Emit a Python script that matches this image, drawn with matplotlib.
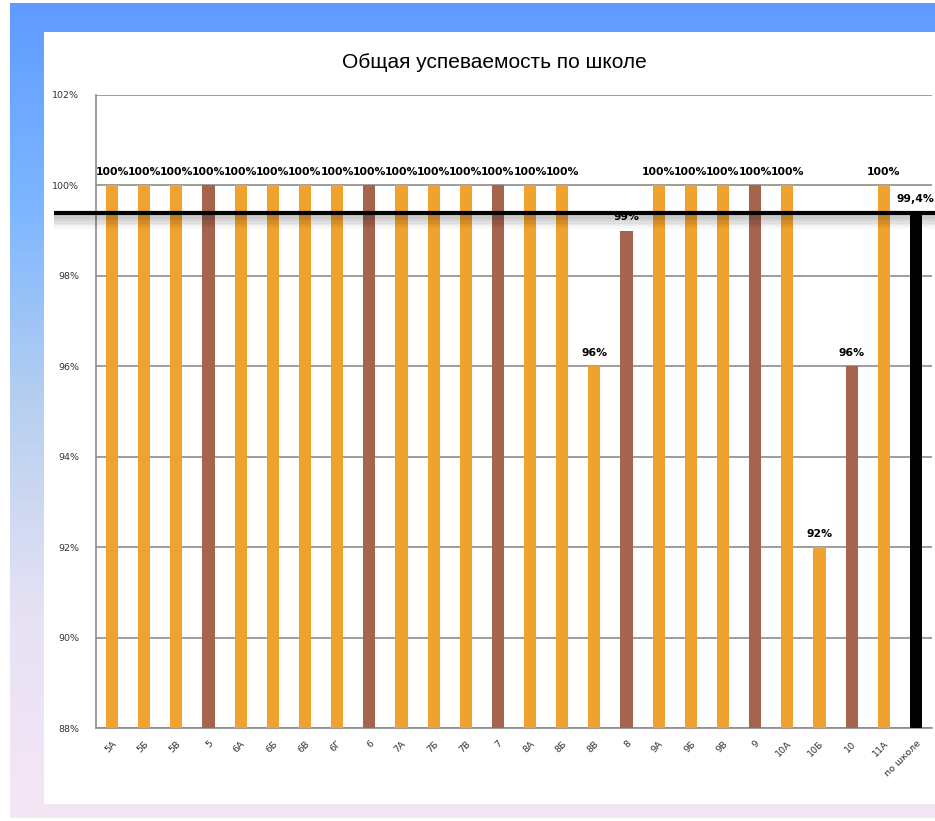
import numpy as np
import matplotlib
matplotlib.use('Agg')
import matplotlib.pyplot as plt
from matplotlib.patches import Rectangle
from matplotlib.colors import LinearSegmentedColormap
import matplotlib.transforms as mtransforms

# School pass rate by class
classes = ['5А', '5Б', '5В', '5', '6А', '6Б', '6В', '6Г', '6', '7А', '7Б', '7В', '7',
           '8А', '8Б', '8В', '8', '9А', '9Б', '9В', '9', '10А', '10Б', '10', '11А',
           'по школе']
values = [100, 100, 100, 100, 100, 100, 100, 100, 100, 100, 100, 100, 100,
          100, 100, 96, 99, 100, 100, 100, 100, 100, 92, 96, 100, 99.4]
kinds = ['c', 'c', 'c', 'p', 'c', 'c', 'c', 'c', 'p', 'c', 'c', 'c', 'p',
         'c', 'c', 'c', 'p', 'c', 'c', 'c', 'p', 'c', 'c', 'p', 'c', 's']
labels = ['100%'] * 15 + ['96%', '99%'] + ['100%'] * 5 + ['92%', '96%', '100%', '99,4%']
school_avg = 99.4
yticks = [88, 90, 92, 94, 96, 98, 100, 102]

colours = {'c': '#EFA22F', 'p': '#A6644E', 's': '#000000'}

W, H = 935, 821
fig = plt.figure(figsize=(W / 100, H / 100), dpi=100, facecolor='white')

# gradient backdrop (blue top -> lavender bottom) with white slide panel
bg = fig.add_axes([10 / W, 3 / H, 1 - 10 / W, (818 - 3) / H])
cmap = LinearSegmentedColormap.from_list('bg', ['#5F9BFF', '#7DB6FF', '#B8D0F0',
                                                '#E6E2F4', '#F5E6F6'])
bg.imshow(np.linspace(0, 1, 256).reshape(-1, 1), aspect='auto', cmap=cmap,
          extent=[0, 1, 0, 1])
bg.add_patch(Rectangle((44 / W, 1 - 804 / H), 1 - 44 / W, (804 - 32) / H,
                       transform=fig.transFigure, facecolor='white',
                       edgecolor='none', clip_on=False))
bg.set_axis_off()

ax = fig.add_axes([96 / W, 1 - 728 / H, (932 - 96) / W, (728 - 95) / H])
ax.set_facecolor('white')
x = np.arange(len(classes))
ax.bar(x, [v - 88 for v in values], bottom=88, width=0.38,
       color=[colours[k] for k in kinds], zorder=3)

for xi, v, lab in zip(x, values, labels):
    ax.annotate(lab, (xi, v), xytext=(0, 6), textcoords='offset points',
                ha='center', va='bottom', fontsize=7.8, fontweight='bold',
                color='black', zorder=5, annotation_clip=False)

ax.set_xlim(-0.5, len(classes) - 0.5)
ax.set_ylim(88, 102)
ax.set_yticks(yticks)
ax.set_yticklabels(['%d%%' % t for t in yticks], fontsize=6.8, color='#333333')
ax.set_xticks(x)
ax.set_xticklabels(classes, rotation=45, ha='right', rotation_mode='anchor',
                   fontsize=6.8, color='#333333')
ax.tick_params(axis='both', length=0)
ax.tick_params(axis='y', pad=12)
ax.tick_params(axis='x', pad=8)
ax.yaxis.grid(True, color='#8C8C8C', linewidth=1.2, zorder=0)
ax.set_axisbelow(True)
for side in ['top', 'right']:
    ax.spines[side].set_visible(False)
for side in ['left', 'bottom']:
    ax.spines[side].set_color('#8C8C8C')
    ax.spines[side].set_linewidth(1.2)

# school average line with soft shadow
trans = mtransforms.blended_transform_factory(ax.transAxes, ax.transData)
for k, a in enumerate([0.12, 0.09, 0.07, 0.05, 0.03]):
    off = mtransforms.offset_copy(trans, fig=fig, x=0, y=-(3 + 2.5 * k),
                                  units='dots')
    ax.plot([-0.05, 1.01], [school_avg, school_avg], color='black', alpha=a,
            linewidth=4, transform=off, clip_on=False, zorder=4,
            solid_capstyle='butt')
ax.plot([-0.05, 1.01], [school_avg, school_avg], color='black', linewidth=3,
        transform=trans, clip_on=False, zorder=6, solid_capstyle='butt')

fig.text(494 / W, 1 - 62 / H, 'Общая успеваемость по школе', ha='center',
         va='center', fontsize=15, family=['Liberation Sans Narrow', 'Liberation Sans'],
         color='black')

fig.savefig('out.png', dpi=100)
